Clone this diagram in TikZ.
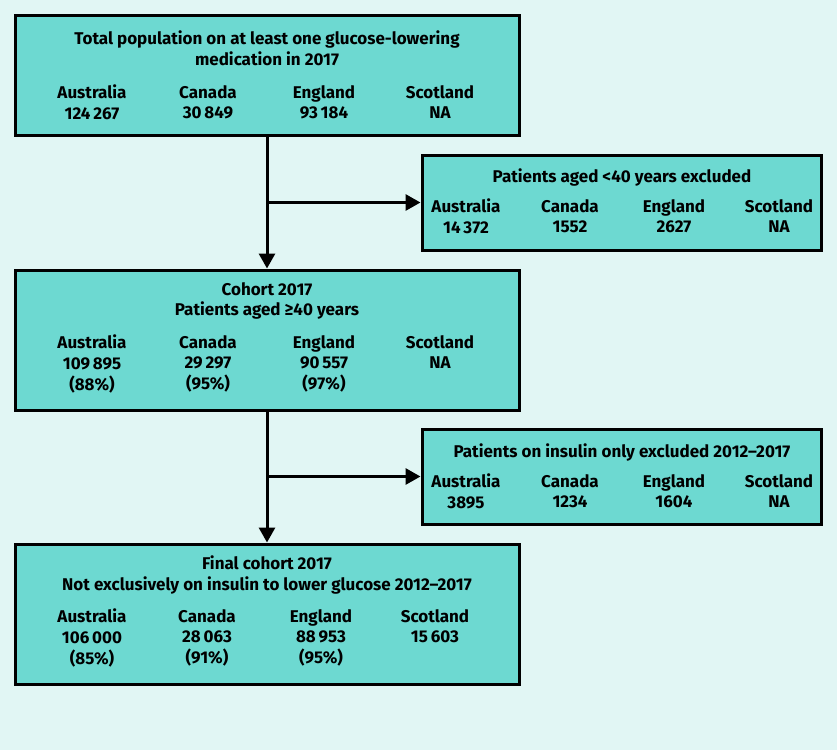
\documentclass[tikz,border=0pt]{standalone}
\usepackage{fontspec}
\setmainfont{Fira Sans}
\usetikzlibrary{arrows.meta}
\definecolor{bgcyan}{HTML}{E1F6F4}
\definecolor{boxteal}{HTML}{6DD9D1}
\begin{document}
\begin{tikzpicture}[x=1pt, y=-1pt]
        % Common Styles
        \tikzset{stage/.style={draw, line width=3pt, fill=boxteal, rectangle, inner sep=0pt}}
        \tikzset{txt/.style={font=\fontsize{17}{20.8}\selectfont\bfseries, align=center, inner sep=0pt}}
        \tikzset{col/.style={txt, anchor=north}}
        \tikzset{flow/.style={line width=3pt, -{Triangle[length=15pt, width=16pt]}}}

        \fill[bgcyan] (0, 0) rectangle (837, 750);
        \useasboundingbox (0, 0) rectangle (837, 750);

        % 1. Total population
        \node[stage, minimum width=504pt, minimum height=120pt] (total) at (267, 75) {};
        \node[txt] (totalT) at (267, 48) {Total population on at least one glucose-lowering\\medication in 2017};
        \node[col] (totalA) at (92, 85) {Australia\\124\,267};
        \node[col] (totalC) at (208, 85) {Canada\\30\,849};
        \node[col] (totalE) at (324, 85) {England\\93\,184};
        \node[col] (totalS) at (440, 85) {Scotland\\NA};

        % 2. Patients aged <40 years
        \node[stage, minimum width=399pt, minimum height=95pt] (young) at (621.5, 202.5) {};
        \node[txt] (youngT) at (622, 177) {Patients aged <40 years excluded};
        \node[col] (youngA) at (466, 199) {Australia\\14\,372};
        \node[col] (youngC) at (570, 199) {Canada\\1552};
        \node[col] (youngE) at (674, 199) {England\\2627};
        \node[col] (youngS) at (779, 199) {Scotland\\NA};

        % 3. Cohort 2017
        \node[stage, minimum width=504pt, minimum height=140pt] (cohort) at (267, 340) {};
        \node[txt] (cohortT) at (267, 301) {Cohort 2017\\Patients aged ≥40 years};
        \node[col] (cohortA) at (92, 335) {Australia\\109\,895\\(88\%)};
        \node[col] (cohortC) at (208, 335) {Canada\\29\,297\\(95\%)};
        \node[col] (cohortE) at (324, 335) {England\\90\,557\\(97\%)};
        \node[col] (cohortS) at (440, 335) {Scotland\\NA};

        % 4. Insulin only
        \node[stage, minimum width=399pt, minimum height=95pt] (insulin) at (621.5, 476.5) {};
        \node[txt] (insulinT) at (622, 452) {Patients on insulin only excluded 2012--2017};
        \node[col] (insulinA) at (466, 474) {Australia\\3895};
        \node[col] (insulinC) at (570, 474) {Canada\\1234};
        \node[col] (insulinE) at (674, 474) {England\\1604};
        \node[col] (insulinS) at (779, 474) {Scotland\\NA};

        % 5. Final cohort
        \node[stage, minimum width=504pt, minimum height=140pt] (final) at (267, 614) {};
        \node[txt] (finalT) at (267, 575) {Final cohort 2017\\Not exclusively on insulin to lower glucose 2012--2017};
        \node[col] (finalA) at (92, 609) {Australia\\106\,000\\(85\%)};
        \node[col] (finalC) at (207, 609) {Canada\\28\,063\\(91\%)};
        \node[col] (finalE) at (321, 609) {England\\88\,953\\(95\%)};
        \node[col] (finalS) at (435, 609) {Scotland\\15\,603};

        % Connectors
        \coordinate (b1) at (total.south |- young.west);
        \coordinate (b2) at (cohort.south |- insulin.west);
        \draw[flow] (total.south) -- (cohort.north);
        \draw[flow] (b1) -- (young.west);
        \draw[flow] (cohort.south) -- (final.north);
        \draw[flow] (b2) -- (insulin.west);
    \end{tikzpicture}
\end{document}
